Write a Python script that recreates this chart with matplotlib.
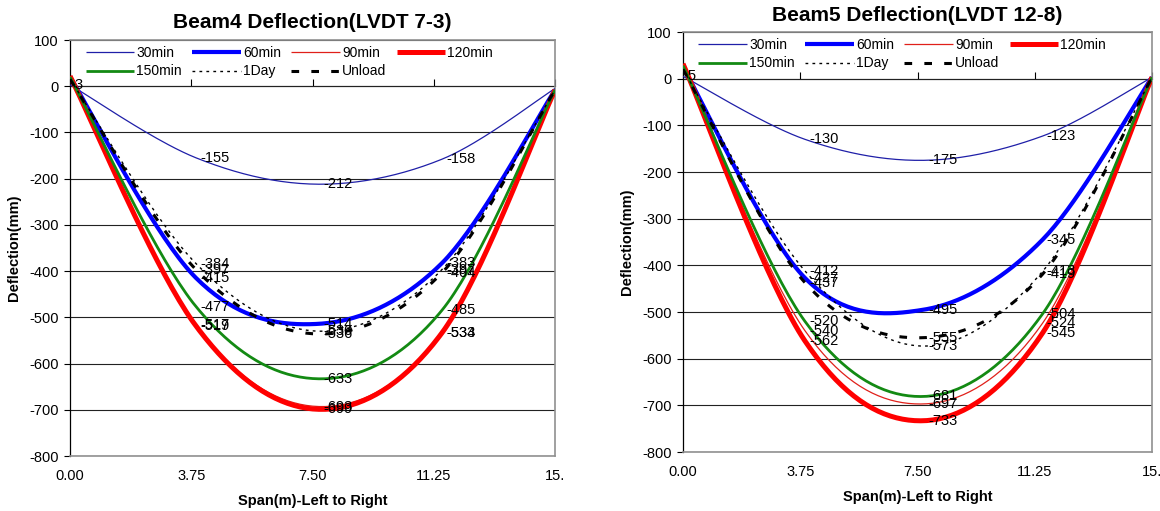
import numpy as np
import matplotlib
matplotlib.use("Agg")
import matplotlib.pyplot as plt

plt.rcParams['font.family'] = ['Liberation Sans', 'DejaVu Sans']

# ---------------- data ----------------
span_x = [0.0, 3.9, 7.7, 11.5, 15.0]
series_names = ["30min", "60min", "90min", "120min", "150min", "1Day", "Unload"]

b4_30min = [3, -155, -212, -158, -5]
b4_60min = [20, -415, -514, -383, -8]
b4_90min = [20, -517, -693, -533, -8]
b4_120min = [22, -519, -699, -534, -8]
b4_150min = [20, -477, -633, -485, -8]
b4_1day = [15, -384, -530, -397, -8]
b4_unload = [15, -397, -536, -404, -8]

b5_30min = [5, -130, -175, -123, 3]
b5_60min = [25, -427, -495, -345, 3]
b5_90min = [30, -540, -697, -524, 3]
b5_120min = [32, -562, -733, -545, 3]
b5_150min = [28, -520, -681, -504, 3]
b5_1day = [20, -412, -573, -413, 3]
b5_unload = [20, -437, -555, -419, 3]

x_ticks = [0.0, 3.75, 7.5, 11.25, 15.0]
x_tick_labels = ["0.00", "3.75", "7.50", "11.25", "15."]
y_ticks = list(range(100, -900, -100))

titles = ["Beam4 Deflection(LVDT 7-3)", "Beam5 Deflection(LVDT 12-8)"]
x_label = "Span(m)-Left to Right"
y_label = "Deflection(mm)"

# ---------------- styles ----------------
styles = {
    "30min": dict(color="#1f1fa8", lw=0.9, ls="-"),
    "60min": dict(color="#0000ff", lw=3.0, ls="-"),
    "90min": dict(color="#e0201a", lw=0.9, ls="-"),
    "120min": dict(color="#ff0000", lw=3.6, ls="-"),
    "150min": dict(color="#138a13", lw=2.0, ls="-"),
    "1Day": dict(color="black", lw=1.0, ls=(0, (2, 3))),
    "Unload": dict(color="black", lw=2.2, ls=(0, (2.5, 4))),
}
legend_order = ["30min", "150min", "60min", "1Day", "90min", "Unload", "120min"]


def excel_smooth(xs, ys, n=40):
    """Bezier smoothing like Excel's smoothed scatter lines."""
    P = np.column_stack([xs, ys]).astype(float)
    m = len(P)
    out = []
    for i in range(m - 1):
        p0 = P[i - 1] if i > 0 else P[i]
        p1 = P[i]
        p2 = P[i + 1]
        p3 = P[i + 2] if i + 2 < m else P[i + 1]
        c1 = p1 + (p2 - p0) / 6.0
        c2 = p2 - (p3 - p1) / 6.0
        t = np.linspace(0, 1, n)[:, None]
        seg = ((1 - t) ** 3) * p1 + 3 * ((1 - t) ** 2) * t * c1 + 3 * (1 - t) * t ** 2 * c2 + t ** 3 * p2
        out.append(seg if i == 0 else seg[1:])
    out = np.vstack(out)
    return out[:, 0], out[:, 1]


fig = plt.figure(figsize=(11.6, 5.11), dpi=100)
axes_rects = [
    [70 / 1160, 1 - 456 / 511, 485 / 1160, 416 / 511],
    [683 / 1160, 1 - 452 / 511, 469 / 1160, 420 / 511],
]
datasets = [
    [b4_30min, b4_60min, b4_90min, b4_120min, b4_150min, b4_1day, b4_unload],
    [b5_30min, b5_60min, b5_90min, b5_120min, b5_150min, b5_1day, b5_unload],
]
title_y = [1 - 22 / 511, 1 - 15 / 511]

for k in range(2):
    ax = fig.add_axes(axes_rects[k])
    ax.set_xlim(0, 15)
    ax.set_ylim(-800, 100)
    ax.set_yticks(y_ticks)
    ax.set_yticklabels([str(v) for v in y_ticks], fontsize=10.5)
    ax.set_xticks(x_ticks)
    ax.set_xticklabels(x_tick_labels, fontsize=10.5)
    ax.tick_params(axis='x', length=0, pad=9)
    ax.tick_params(axis='y', direction='out', length=4, width=0.8, pad=4)
    ax.grid(axis='y', color='#222222', lw=0.8)
    ax.set_axisbelow(True)
    for s in ['top', 'right', 'bottom']:
        ax.spines[s].set_color('#909090')
        ax.spines[s].set_linewidth(1.2)
    ax.spines['left'].set_color('black')
    ax.spines['left'].set_linewidth(0.9)

    # category axis crossing at zero, with tick marks
    sec = ax.secondary_xaxis(800 / 900)
    sec.set_xticks(x_ticks)
    sec.tick_params(direction='out', length=5, width=0.8, labelbottom=False, labeltop=False)
    sec.set_xticklabels([])

    handles = {}
    for name, ys in zip(series_names, datasets[k]):
        sx, sy = excel_smooth(span_x, ys)
        st = styles[name]
        h, = ax.plot(sx, sy, color=st["color"], lw=st["lw"], ls=st["ls"], label=name,
                     solid_capstyle='butt', dash_capstyle='butt', zorder=3)
        handles[name] = h
        for i, (xv, yv) in enumerate(zip(span_x, ys)):
            if i == len(span_x) - 1:
                continue
            if i == 0 and name != "30min":
                continue
            ax.annotate(f"{yv}", (xv, yv), xytext=(3, 0), textcoords='offset points',
                        va='center', ha='left', fontsize=10.5, zorder=4, annotation_clip=False)

    leg = ax.legend(handles=[handles[n] for n in legend_order], ncol=4, loc='upper left',
                    bbox_to_anchor=(0.012, 1.01),
                    frameon=False, fontsize=10, handlelength=3.5, handletextpad=0.15,
                    columnspacing=0.75, labelspacing=0.35, borderpad=0.2)

    ax.set_ylabel(y_label, fontsize=10.5, fontweight='bold', labelpad=6)
    ax.set_xlabel(x_label, fontsize=10.5, fontweight='bold', labelpad=8)
    cx = axes_rects[k][0] + axes_rects[k][2] / 2
    fig.text(cx, title_y[k], titles[k], ha='center', va='center', fontsize=15, fontweight='bold')

fig.savefig("out.png", dpi=100)
